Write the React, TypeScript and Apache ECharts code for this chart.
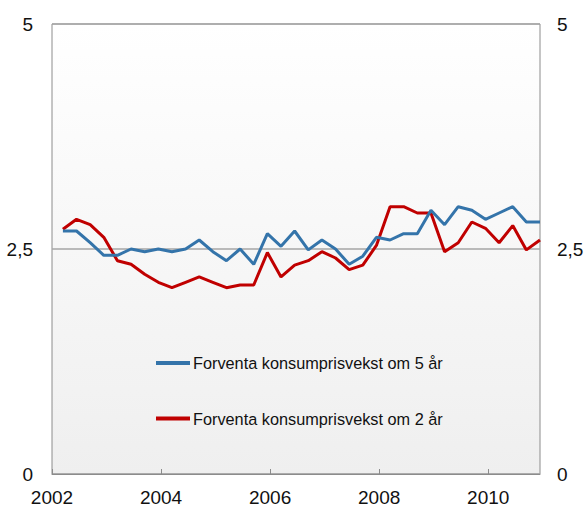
import React, { useEffect, useRef } from "react";
import * as echarts from "echarts";

// Quarterly observations, 2002 Q1 – 2010 Q4
const years = [
  2002, 2002, 2002, 2002, 2003, 2003, 2003, 2003, 2004, 2004, 2004, 2004,
  2005, 2005, 2005, 2005, 2006, 2006, 2006, 2006, 2007, 2007, 2007, 2007,
  2008, 2008, 2008, 2008, 2009, 2009, 2009, 2009, 2010, 2010, 2010, 2010,
];
const quarters = [
  1, 2, 3, 4, 1, 2, 3, 4, 1, 2, 3, 4, 1, 2, 3, 4, 1, 2, 3, 4, 1, 2, 3, 4,
  1, 2, 3, 4, 1, 2, 3, 4, 1, 2, 3, 4,
];

const seriesNames = [
  "Forventa konsumprisvekst om 5 år",
  "Forventa konsumprisvekst om 2 år",
];

const fiveYear = [
  2.7, 2.7, 2.57, 2.43, 2.43, 2.5, 2.47, 2.5, 2.47, 2.5, 2.6, 2.47,
  2.37, 2.5, 2.33, 2.67, 2.53, 2.7, 2.49, 2.6, 2.5, 2.33, 2.42, 2.63,
  2.6, 2.67, 2.67, 2.93, 2.77, 2.97, 2.93, 2.83, 2.9, 2.97, 2.8, 2.8,
];
const twoYear = [
  2.72, 2.83, 2.77, 2.63, 2.37, 2.33, 2.22, 2.13, 2.07, 2.13, 2.19, 2.13,
  2.07, 2.1, 2.1, 2.46, 2.19, 2.32, 2.37, 2.47, 2.4, 2.27, 2.32, 2.54,
  2.97, 2.97, 2.9, 2.9, 2.47, 2.57, 2.8, 2.73, 2.57, 2.76, 2.49, 2.6,
];

const yTicks = [0, 2.5, 5];
const xTickYears = [2002, 2004, 2006, 2008, 2010];

const FONT = "'Liberation Sans', Arial, sans-serif";
const BLUE = "#3474aa";
const RED = "#c00000";

export default function App() {
  const ref = useRef<HTMLDivElement>(null);

  useEffect(() => {
    if (!ref.current) return;
    const chart = echarts.init(ref.current, null, { renderer: "svg" });
    // time position: last month of each quarter (mid-month)
    const xs = years.map((y, i) => y + (quarters[i] - 1) / 4 + 0.2);
    const toPairs = (vals: number[]) => vals.map((v, i) => [xs[i], v]);
    const fmtY = (v: number) =>
      yTicks.includes(v) ? String(v).replace(".", ",") : "";

    const yAxisBase = {
      type: "value" as const,
      min: 0,
      max: 5,
      interval: 2.5,
      axisLine: { show: false },
      axisTick: { show: false },
    };

    chart.setOption({
      animation: false,
      backgroundColor: "#ffffff",
      textStyle: { fontFamily: FONT },
      grid: {
        left: 52,
        right: 47,
        top: 24,
        bottom: 33,
        show: true,
        borderColor: "#8c8c8c",
        borderWidth: 1,
        backgroundColor: new echarts.graphic.LinearGradient(0, 0, 0, 1, [
          { offset: 0, color: "#ffffff" },
          { offset: 1, color: "#efefef" },
        ]),
      },
      legend: {
        orient: "vertical",
        left: 156,
        top: 355,
        padding: 0,
        icon: "rect",
        itemWidth: 34,
        itemHeight: 4,
        itemGap: 39.5,
        textStyle: {
          fontSize: 16.3,
          lineHeight: 16,
          color: "#111",
          fontFamily: FONT,
          padding: [0, 0, 0, -2],
        },
        data: [
          { name: seriesNames[0], itemStyle: { color: BLUE } },
          { name: seriesNames[1], itemStyle: { color: RED } },
        ],
      },
      xAxis: {
        type: "value",
        min: 2002,
        max: 2010.95,
        interval: 2,
        splitLine: { show: false },
        axisLine: { show: true, lineStyle: { color: "#8c8c8c" } },
        axisTick: {
          show: true,
          inside: true,
          length: 5,
          lineStyle: { color: "#8c8c8c" },
        },
        axisLabel: {
          showMaxLabel: false,
          margin: 14,
          fontSize: 19,
          color: "#111",
          fontFamily: FONT,
          formatter: (v: number) =>
            xTickYears.includes(v) ? String(v) : "",
        },
      },
      yAxis: [
        {
          ...yAxisBase,
          position: "left",
          splitLine: { show: true, lineStyle: { color: "#a6a6a6", width: 1.5 } },
          axisLabel: {
            margin: 19,
            fontSize: 19,
            color: "#111",
            fontFamily: FONT,
            formatter: fmtY,
          },
        },
        {
          ...yAxisBase,
          position: "right",
          splitLine: { show: false },
          axisLabel: {
            margin: 17,
            fontSize: 19,
            color: "#111",
            fontFamily: FONT,
            formatter: fmtY,
          },
        },
      ],
      series: [
        {
          name: seriesNames[0],
          type: "line",
          data: toPairs(fiveYear),
          symbol: "none",
          lineStyle: { color: BLUE, width: 3 },
          itemStyle: { color: BLUE },
          z: 3,
        },
        {
          name: seriesNames[1],
          type: "line",
          data: toPairs(twoYear),
          symbol: "none",
          lineStyle: { color: RED, width: 3 },
          itemStyle: { color: RED },
          z: 2,
        },
      ],
    });
    return () => chart.dispose();
  }, []);

  return (
    <div
      ref={ref}
      style={{ position: "fixed", left: 0, top: 0, width: 587, height: 507 }}
    />
  );
}
